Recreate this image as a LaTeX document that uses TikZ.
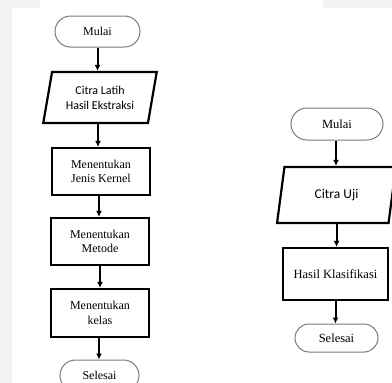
\documentclass[tikz,border=0pt]{standalone}
\usepackage{fontspec}
\setmainfont{Liberation Serif}
\newfontfamily\calib{Carlito}
\usetikzlibrary{shapes.geometric,shapes.misc,arrows.meta}
\definecolor{bggray}{HTML}{F2F2F2}
\definecolor{termgray}{HTML}{7A7A7A}
\tikzset{
  term/.style={rounded rectangle, draw=termgray, line width=1pt, font=\fontsize{12}{14}\selectfont, inner sep=0pt},
  proc/.style={rectangle, draw=black, line width=2.2pt, align=center, font=\fontsize{12}{14.3}\selectfont, inner sep=0pt},
  iobox/.style={trapezium, trapezium stretches=true, trapezium left angle=75, trapezium right angle=105, draw=black, line width=2.2pt, align=center, font=\calib\fontsize{12}{15}\selectfont, inner sep=0pt},
  flow/.style={draw=black, line width=2pt, -{Latex[length=6pt,width=6pt]}}
}
\begin{document}
\begin{tikzpicture}[x=1pt,y=-1pt]
\useasboundingbox (0,0) rectangle (392,383);
\fill[bggray] (0,0) rectangle (12,383);
\fill[bggray] (0,0) rectangle (40,8);
\fill[bggray] (323,0) rectangle (392,8);
% left chart
\node[term, minimum width=85pt, minimum height=31pt] (m1) at (97.5,31.5) {Mulai};
\node[iobox, minimum width=114pt, minimum height=51pt] (c1) at (100,97.5) {Citra Latih\\Hasil Ekstraksi};
\node[proc, minimum width=98pt, minimum height=47pt] (k1) at (101,171.5) {Menentukan\\Jenis Kernel};
\node[proc, minimum width=98pt, minimum height=47pt] (t1) at (100,241.5) {Menentukan\\Metode};
\node[proc, minimum width=98pt, minimum height=48pt] (l1) at (100,313) {Menentukan\\kelas};
\node[term, minimum width=79pt, minimum height=31pt] (s1) at (99.5,375.5) {Selesai};
\draw[flow] (m1.south) -- (m1.south |- c1.north);
\draw[flow] ([xshift=-2pt]c1.south) -- ([xshift=-2pt]c1.south |- k1.north);
\draw[flow] ([xshift=-2pt]k1.south) -- ([xshift=-2pt]k1.south |- t1.north);
\draw[flow] (t1.south) -- (t1.south |- l1.north);
\draw[flow] ([xshift=-1pt]l1.south) -- ([xshift=-1pt]l1.south |- s1.north);
% right chart
\node[term, font=\fontsize{12.5}{14}\selectfont, minimum width=92pt, minimum height=32pt] (m2) at (337,124) {Mulai};
\node[iobox, font=\calib\fontsize{13.5}{15}\selectfont, minimum width=119pt, minimum height=56pt] (c2) at (336.5,195) {Citra Uji};
\node[proc, font=\fontsize{12.5}{14}\selectfont, minimum width=105pt, minimum height=52pt] (h2) at (335.5,274) {Hasil Klasifikasi};
\node[term, font=\fontsize{12.5}{14}\selectfont, minimum width=83pt, minimum height=28pt] (s2) at (336.5,338) {Selesai};
\draw[flow] ([xshift=-1pt]m2.south) -- ([xshift=-1pt]m2.south |- c2.north);
\draw[flow] (c2.south) -- (c2.south |- h2.north);
\draw[flow] (h2.south) -- (h2.south |- s2.north);
\end{tikzpicture}
\end{document}
